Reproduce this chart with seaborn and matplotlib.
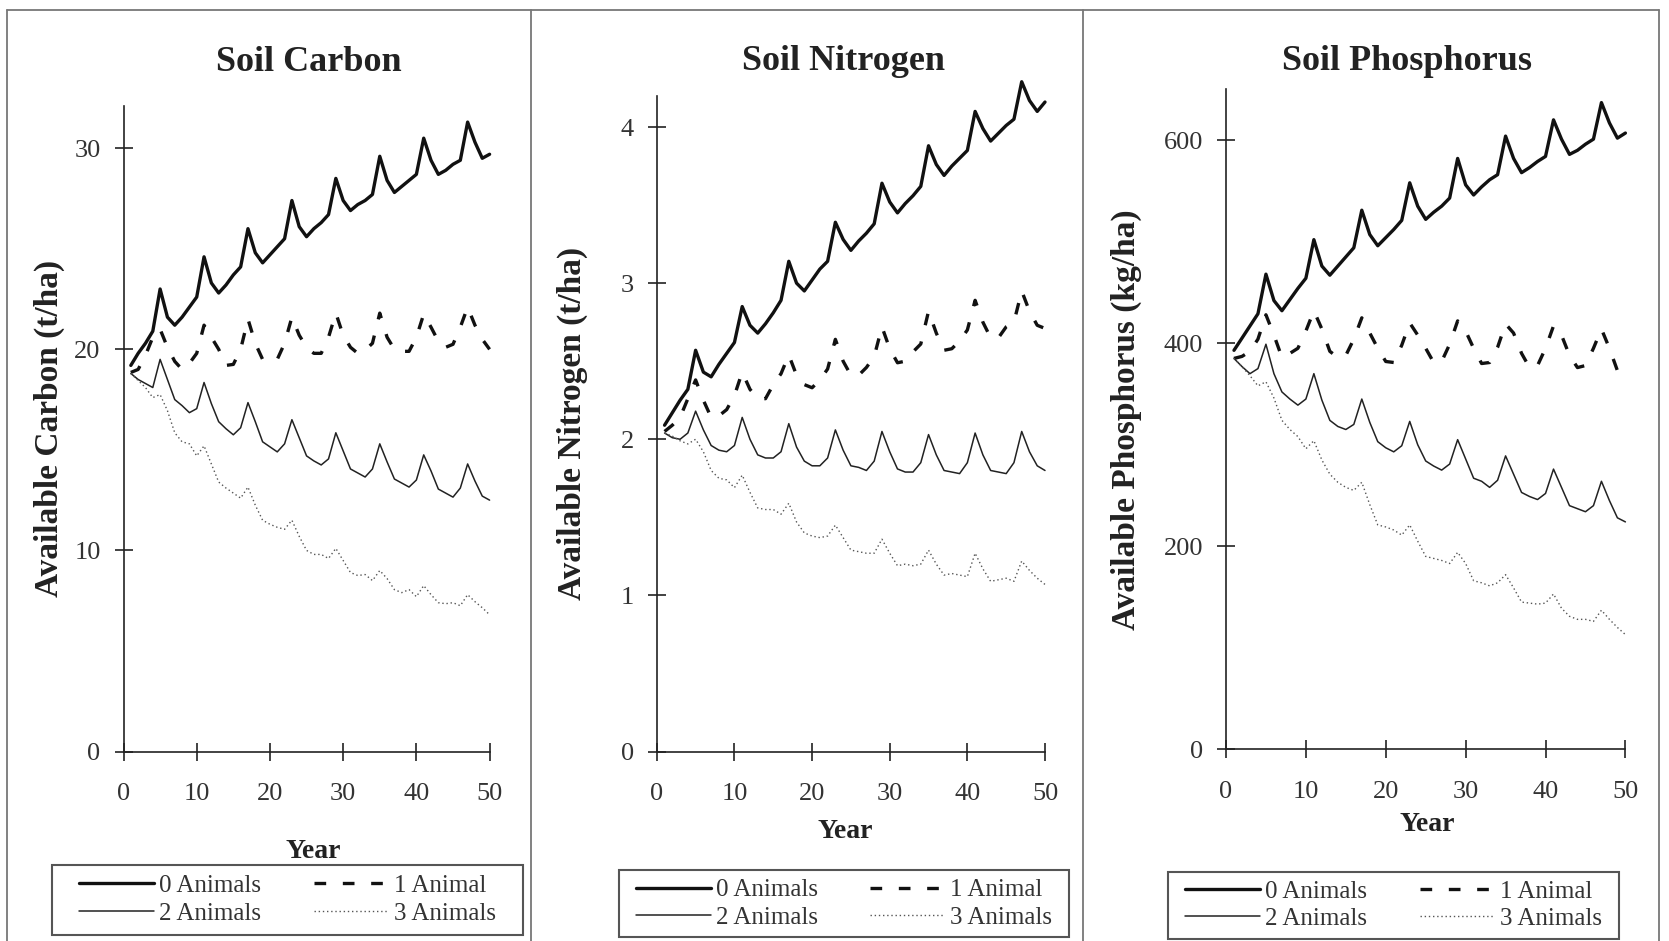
import numpy as np
import matplotlib
matplotlib.use("Agg")
import matplotlib.pyplot as plt
import seaborn as sns
from matplotlib.lines import Line2D
from matplotlib.patches import Rectangle

sns.set_style("white")
plt.rcParams['font.family'] = ['Liberation Serif', 'DejaVu Serif']

years = list(range(1, 51))
series_labels = ["0 Animals", "1 Animal", "2 Animals", "3 Animals"]
titles = ["Soil Carbon", "Soil Nitrogen", "Soil Phosphorus"]
ylabels = ["Available Carbon (t/ha)", "Available Nitrogen (t/ha)", "Available Phosphorus (kg/ha)"]
xticks = [0, 10, 20, 30, 40, 50]
yticks_c = [0, 10, 20, 30]
yticks_n = [0, 1, 2, 3, 4]
yticks_p = [0, 200, 400, 600]

carbon_0 = [19.2, 19.8, 20.3, 20.9, 23.0, 21.6, 21.2, 21.6, 22.1, 22.6, 24.6, 23.3, 22.8, 23.2, 23.7, 24.1, 26.0, 24.8, 24.3, 24.7,
            25.1, 25.5, 27.4, 26.1, 25.6, 26.0, 26.3, 26.7, 28.5, 27.4, 26.9, 27.2, 27.4, 27.7, 29.6, 28.4, 27.8, 28.1, 28.4, 28.7,
            30.5, 29.4, 28.7, 28.9, 29.2, 29.4, 31.3, 30.3, 29.5, 29.7]
carbon_1 = [18.85, 19.0, 19.7, 20.6, 21.0, 20.1, 19.4, 19.0, 19.3, 19.8, 21.2, 20.6, 20.0, 19.2, 19.25, 20.0, 21.5, 20.3, 19.5, 19.4,
            19.5, 20.3, 21.6, 20.7, 20.1, 19.8, 19.8, 20.6, 21.8, 20.7, 20.1, 19.8, 19.96, 20.3, 21.8, 20.6, 20.0, 19.9, 19.9, 20.6,
            21.75, 21.1, 20.4, 20.1, 20.25, 21.1, 22.1, 21.2, 20.5, 20.0]
carbon_2 = [18.8, 18.5, 18.3, 18.1, 19.5, 18.5, 17.5, 17.2, 16.85, 17.05, 18.35, 17.3, 16.4, 16.05, 15.75, 16.1, 17.35, 16.4, 15.4, 15.15,
            14.9, 15.3, 16.5, 15.6, 14.7, 14.45, 14.25, 14.55, 15.85, 14.95, 14.05, 13.85, 13.65, 14.05, 15.3, 14.4, 13.55, 13.35, 13.15, 13.5,
            14.75, 13.95, 13.05, 12.85, 12.65, 13.1, 14.3, 13.45, 12.7, 12.5]
carbon_3 = [18.8, 18.45, 18.1, 17.6, 17.75, 16.95, 15.85, 15.4, 15.3, 14.7, 15.2, 14.3, 13.4, 13.1, 12.85, 12.6, 13.15, 12.25, 11.5, 11.3,
            11.15, 11.05, 11.5, 10.7, 10.0, 9.8, 9.8, 9.6, 10.1, 9.5, 8.9, 8.75, 8.8, 8.5, 9.0, 8.6, 8.05, 7.9, 8.05, 7.7,
            8.25, 7.8, 7.4, 7.35, 7.4, 7.25, 7.8, 7.45, 7.15, 6.8]

nitrogen_0 = [2.09, 2.17, 2.25, 2.32, 2.57, 2.43, 2.40, 2.48, 2.55, 2.62, 2.85, 2.73, 2.68, 2.74, 2.81, 2.89, 3.14, 3.00, 2.95, 3.02,
              3.09, 3.14, 3.39, 3.28, 3.21, 3.27, 3.32, 3.38, 3.64, 3.52, 3.45, 3.51, 3.56, 3.62, 3.88, 3.76, 3.69, 3.75, 3.80, 3.85,
              4.10, 3.99, 3.91, 3.96, 4.01, 4.05, 4.29, 4.17, 4.10, 4.16]
nitrogen_1 = [2.05, 2.09, 2.14, 2.26, 2.38, 2.25, 2.14, 2.15, 2.19, 2.28, 2.43, 2.32, 2.26, 2.26, 2.35, 2.42, 2.54, 2.41, 2.35, 2.33,
              2.38, 2.45, 2.64, 2.50, 2.41, 2.41, 2.46, 2.53, 2.72, 2.58, 2.49, 2.50, 2.56, 2.61, 2.82, 2.68, 2.57, 2.58, 2.63, 2.70,
              2.89, 2.75, 2.65, 2.65, 2.72, 2.75, 2.95, 2.82, 2.73, 2.71]
nitrogen_2 = [2.04, 2.01, 2.00, 2.04, 2.18, 2.06, 1.96, 1.93, 1.92, 1.96, 2.14, 2.00, 1.90, 1.88, 1.88, 1.92, 2.10, 1.95, 1.86, 1.83,
              1.83, 1.88, 2.06, 1.93, 1.83, 1.82, 1.80, 1.86, 2.05, 1.92, 1.81, 1.79, 1.79, 1.85, 2.03, 1.90, 1.80, 1.79, 1.78, 1.85,
              2.04, 1.90, 1.80, 1.79, 1.78, 1.85, 2.05, 1.92, 1.83, 1.80]
nitrogen_3 = [2.04, 2.02, 1.99, 1.97, 2.00, 1.92, 1.80, 1.75, 1.74, 1.69, 1.77, 1.66, 1.56, 1.55, 1.55, 1.52, 1.59, 1.47, 1.40, 1.38,
              1.37, 1.38, 1.45, 1.37, 1.29, 1.28, 1.27, 1.27, 1.36, 1.27, 1.19, 1.20, 1.19, 1.20, 1.29, 1.20, 1.13, 1.14, 1.13, 1.12,
              1.27, 1.17, 1.09, 1.10, 1.11, 1.09, 1.22, 1.16, 1.11, 1.07]

phosphorus_0 = [393, 405, 417, 429, 468, 442, 432, 443, 454, 464, 502, 476, 467, 476, 485, 494, 531, 507, 496, 504,
                512, 521, 558, 535, 522, 529, 535, 543, 582, 556, 546, 554, 561, 566, 604, 582, 568, 573, 579, 584,
                620, 601, 586, 590, 596, 601, 637, 617, 602, 607]
phosphorus_1 = [385, 387, 392, 404, 428, 408, 386, 390, 395, 412, 432, 414, 392, 386, 388, 404, 425, 410, 395, 382,
                381, 398, 420, 408, 395, 381, 382, 399, 422, 412, 395, 380, 381, 396, 419, 410, 390, 376, 378, 395,
                417, 408, 388, 376, 378, 395, 414, 395, 373, 372]
phosphorus_2 = [385, 377, 370, 375, 399, 370, 352, 345, 339, 345, 370, 344, 324, 318, 315, 320, 345, 322, 303, 297,
                293, 299, 323, 300, 284, 279, 275, 281, 305, 286, 267, 264, 258, 265, 289, 271, 253, 249, 246, 252,
                276, 258, 240, 237, 234, 240, 264, 245, 228, 224]
phosphorus_3 = [385, 377, 368, 358, 362, 346, 324, 315, 308, 296, 304, 285, 271, 263, 258, 255, 263, 241, 221, 219,
                216, 211, 221, 205, 190, 188, 186, 183, 194, 183, 166, 164, 161, 164, 172, 159, 145, 144, 143, 144,
                153, 139, 131, 128, 128, 126, 137, 128, 120, 113]

W, H = 1669, 941
fig = plt.figure(figsize=(W / 100, H / 100), dpi=100)
fig.patch.set_facecolor("white")

styles = [
    dict(color="#111111", linewidth=2.4, linestyle="-"),
    dict(color="#111111", linewidth=2.4, linestyle=(0, (3.5, 5.0))),
    dict(color="#222222", linewidth=1.1, linestyle="-"),
    dict(color="#555555", linewidth=1.0, linestyle=(0, (1.0, 2.0))),
]

panels = [
    dict(data=[carbon_0, carbon_1, carbon_2, carbon_3], yticks=yticks_c, ylim=32.1,
         box=(123.5, 489.6, 106, 751.5), title_xy=(309, 63), ylab_x=49.5, xlab_xy=(313, 852),
         leg=(52, 523, 865, 935), leg_cy=899.5),
    dict(data=[nitrogen_0, nitrogen_1, nitrogen_2, nitrogen_3], yticks=yticks_n, ylim=4.2,
         box=(656.8, 1045, 95.8, 751.5), title_xy=(843, 62), ylab_x=572, xlab_xy=(845, 832),
         leg=(619, 1069, 870, 937), leg_cy=904),
    dict(data=[phosphorus_0, phosphorus_1, phosphorus_2, phosphorus_3], yticks=yticks_p, ylim=650,
         box=(1226, 1625.4, 89.4, 749.3), title_xy=(1407, 61), ylab_x=1126, xlab_xy=(1427, 825),
         leg=(1168, 1619, 872, 939), leg_cy=905),
]

for i, p in enumerate(panels):
    x0, x1, yt, yb = p["box"]
    ax = fig.add_axes([x0 / W, 1 - yb / H, (x1 - x0) / W, (yb - yt) / H])
    for vals, st in zip(p["data"], styles):
        sns.lineplot(x=years, y=vals, ax=ax, clip_on=False, **st)
    ax.set_xlim(0, 50)
    ax.set_ylim(0, p["ylim"])
    ax.set_xticks(xticks)
    ax.set_yticks(p["yticks"])
    for s in ["top", "right"]:
        ax.spines[s].set_visible(False)
    for s in ["left", "bottom"]:
        ax.spines[s].set_color("#222222")
        ax.spines[s].set_linewidth(1.2)
    ax.tick_params(axis="both", direction="inout", length=13, width=1.2, color="#222222",
                   labelsize=19, labelcolor="#333333", bottom=True, left=True)
    ax.tick_params(axis="x", pad=16)
    ax.tick_params(axis="y", pad=10)
    # title
    tx, ty = p["title_xy"]
    ax.set_title(titles[i], x=(tx - x0) / (x1 - x0), y=(yb - ty) / (yb - yt), pad=0,
                 va="center", fontsize=26, fontweight="bold", color="#222222")
    ax.set_ylabel(ylabels[i], fontsize=24, fontweight="bold", color="#222222", va="center")
    ax.yaxis.set_label_coords((p["ylab_x"] - x0) / (x1 - x0), 0.5)
    lx, ly = p["xlab_xy"]
    ax.set_xlabel("Year", fontsize=20, fontweight="bold", color="#222222", va="center")
    ax.xaxis.set_label_coords((lx - x0) / (x1 - x0), (yb - ly) / (yb - yt))

    # legend box
    lx0, lx1, ly0, ly1 = p["leg"]
    fig.add_artist(Rectangle((lx0 / W, 1 - ly1 / H), (lx1 - lx0) / W, (ly1 - ly0) / H,
                             transform=fig.transFigure, fill=False, edgecolor="#555555",
                             linewidth=1.5))
    handles = [Line2D([], [], **st) for st in styles]
    order = [0, 2, 1, 3]
    leg = ax.legend([handles[k] for k in order], [series_labels[k] for k in order], ncol=2,
                    loc="center",
                    bbox_to_anchor=((lx0 + lx1) / 2 / W, 1 - p["leg_cy"] / H),
                    bbox_transform=fig.transFigure, fontsize=18, frameon=False,
                    handlelength=3.0, handletextpad=0.2, labelspacing=0.2, borderpad=0.0,
                    columnspacing=2.1, borderaxespad=0.0)
    for t in leg.get_texts():
        t.set_color("#333333")

# panel borders
border_kw = dict(color="#777777", linewidth=1.3, transform=fig.transFigure)
for bx in [7, 531, 1083, 1659]:
    fig.add_artist(Line2D([bx / W, bx / W], [0, 1 - 10 / H], **border_kw))
fig.add_artist(Line2D([7 / W, 1659 / W], [1 - 10 / H, 1 - 10 / H], **border_kw))

fig.savefig("out.png", dpi=100, facecolor="white")
